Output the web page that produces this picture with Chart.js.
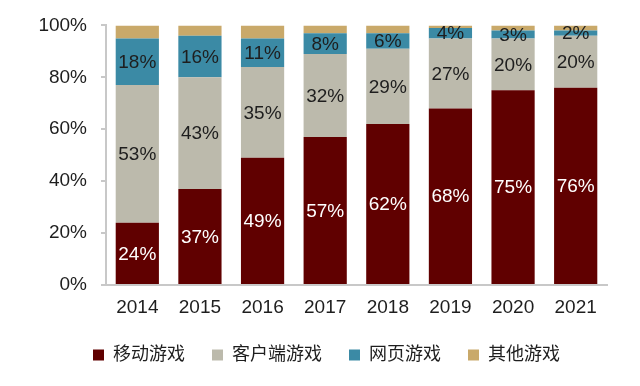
<!DOCTYPE html>
<html>
<head>
<meta charset="utf-8">
<script src="https://cdn.jsdelivr.net/npm/chart.js@4"></script>
<style>
html,body{margin:0;padding:0;background:#fff;}
#wrap{width:640px;height:386px;}
</style>
</head>
<body>
<div id="wrap"><canvas id="c" width="640" height="386"></canvas></div>
<script>
const categories = ['2014','2015','2016','2017','2018','2019','2020','2021'];
const mobile = [24, 37, 49, 57, 62, 68, 75, 76];
const client = [53, 43, 35, 32, 29, 27, 20, 20];
const web = [18, 16, 11, 8, 6, 4, 3, 2];
const other = [5, 4, 5, 3, 3, 1, 2, 2];
const seriesNames = ['移动游戏', '客户端游戏', '网页游戏', '其他游戏'];
const yTicks = [0, 20, 40, 60, 80, 100];

const FONT = '"Liberation Sans", Arial, "Noto Sans CJK SC", sans-serif';

const labelPlugin = {
  id: 'segLabels',
  afterLayout(chart) {
    if (chart.legend) { chart.legend.left += 23; chart.legend.right += 23; }
  },
  afterDatasetsDraw(chart) {
    const ctx = chart.ctx;
    ctx.save();
    ctx.font = '19px ' + FONT;
    ctx.textAlign = 'center';
    ctx.textBaseline = 'middle';
    [0, 1, 2].forEach(di => {
      const meta = chart.getDatasetMeta(di);
      const ds = chart.data.datasets[di];
      meta.data.forEach((el, i) => {
        const y = (el.y + el.base) / 2;
        ctx.fillStyle = di === 0 ? '#ffffff' : '#1e1e1e';
        ctx.fillText(ds.data[i] + '%', el.x, y + 1);
      });
    });
    ctx.restore();
  }
};

new Chart(document.getElementById('c'), {
  type: 'bar',
  data: {
    labels: categories,
    datasets: [
      { label: seriesNames[0], data: mobile, backgroundColor: '#600000' },
      { label: seriesNames[1], data: client, backgroundColor: '#bcbaac' },
      { label: seriesNames[2], data: web, backgroundColor: '#3b8aa5' },
      { label: seriesNames[3], data: other, backgroundColor: '#c9a96a' }
    ]
  },
  options: {
    responsive: false,
    animation: false,
    devicePixelRatio: 1,
    layout: { padding: { top: 24, right: 33, left: 0, bottom: 12 } },
    datasets: { bar: { categoryPercentage: 1, barPercentage: 0.69 } },
    plugins: {
      legend: {
        position: 'bottom',
        labels: {
          boxWidth: 11, boxHeight: 11, padding: 27,
          color: '#1e1e1e',
          font: { size: 18, family: FONT }
        }
      },
      tooltip: { enabled: false }
    },
    scales: {
      x: {
        stacked: true,
        grid: { display: false, drawTicks: false },
        border: { display: true, color: '#c8c8c8', width: 2 },
        ticks: { color: '#1e1e1e', padding: 11, font: { size: 19, family: FONT } },
        afterFit(s) { s.height = 34; }
      },
      y: {
        stacked: true,
        min: 0, max: 100,
        afterBuildTicks(s) { s.ticks = yTicks.map(v => ({ value: v })); },
        grid: { display: true, drawOnChartArea: false, drawTicks: true, tickLength: 5, color: '#c8c8c8', lineWidth: 2 },
        border: { display: true, color: '#c8c8c8', width: 2 },
        ticks: { color: '#1e1e1e', padding: 14, font: { size: 19, family: FONT }, callback: v => v + '%' },
        afterFit(s) { s.width = 106; }
      }
    }
  },
  plugins: [labelPlugin]
});
</script>
</body>
</html>
